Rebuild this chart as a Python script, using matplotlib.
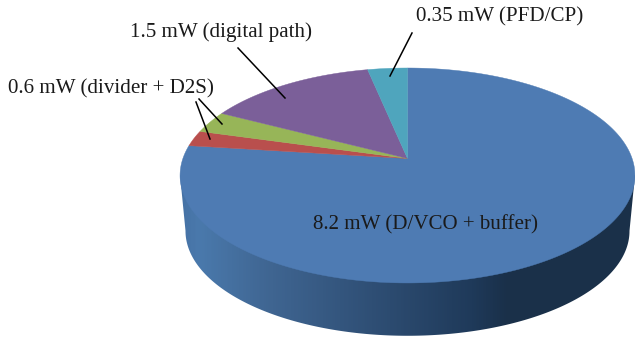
import numpy as np
import matplotlib
matplotlib.use('Agg')
import matplotlib.pyplot as plt
from matplotlib.colors import LinearSegmentedColormap
from matplotlib.patches import Polygon

# Power budget in mW, clockwise from 12 o'clock
blocks = ['D/VCO + buffer', 'divider', 'D2S', 'digital path', 'PFD/CP']
power = [8.2, 0.25, 0.35, 1.5, 0.35]
colors = ['#4e7bb3', '#b94f4d', '#97b558', '#7b5f99', '#4fa5bd']

labels = ['8.2 mW (D/VCO + buffer)', '0.6 mW (divider + D2S)',
          '1.5 mW (digital path)', '0.35 mW (PFD/CP)']
label_pos = [(313, 229), (8, 93), (130, 37), (416, 21)]

# Leader lines: start, end
leaders = [((238, 48), (285, 98)), ((412, 33), (390, 76)),
           ((196, 102), (210, 139)), ((199, 99), (222, 124))]

# Perspective of the disc, in pixels
cx, cy = 407.5, 158.5
A, B, k = 224.6, 104.8, 0.158


def top_face(theta):
    # theta in radians, clockwise from the top of the disc
    u, v = np.sin(theta), np.cos(theta)
    w = 1 + k*v
    return cx + A*u/w, cy - B*v/w


def bottom_face(theta):
    # lower rim, a bit narrower than the top one
    x, y = top_face(theta)
    return cx + (x - cx)*0.976, 231 + (y - 175.5)*0.975


fig = plt.figure(figsize=(6.35, 3.39), dpi=100)
ax = fig.add_axes([0, 0, 1, 1])
ax.set_xlim(0, 635)
ax.set_ylim(339, 0)
ax.axis('off')

# Side wall of the blue slice, with its horizontal shading
t = np.linspace(0, 2*np.pi, 721)
xt, yt = top_face(t)
xb, yb = bottom_face(t)
left_t, right_t = np.argmin(xt), np.argmax(xt)
left_b, right_b = np.argmin(xb), np.argmax(xb)
front = np.arange(right_b, left_b + 1)
wall = np.vstack([[xt[right_t], yt[right_t]],
                  np.column_stack([xb[front], yb[front]]),
                  [xt[left_t], yt[left_t]]])
wall_patch = Polygon(wall, closed=True, facecolor='none', edgecolor='none')
ax.add_patch(wall_patch)
shade = LinearSegmentedColormap.from_list('wall', [
    (0.0, '#4672a5'), (0.04, '#4a79ac'), (0.2, '#3f6591'),
    (0.42, '#2f4f75'), (0.64, '#1f3a5a'), (0.72, '#1a3049'), (1.0, '#1b3049')])
im = ax.imshow(np.linspace(0, 1, 456).reshape(1, -1), cmap=shade, aspect='auto',
               extent=(180, 636, 339, 0), zorder=1)
im.set_clip_path(wall_patch)
ax.set_xlim(0, 635)
ax.set_ylim(339, 0)

# Top face, one wedge per block
edges = np.cumsum([0] + power)/np.sum(power)*2*np.pi
for i in range(len(power)):
    a = np.linspace(edges[i], edges[i+1], 300)
    x, y = top_face(a)
    pts = np.column_stack([np.r_[cx, x], np.r_[cy, y]])
    ax.add_patch(Polygon(pts, closed=True, facecolor=colors[i],
                         edgecolor=colors[i], linewidth=0.3, zorder=2))

for (p0, p1) in leaders:
    ax.plot([p0[0], p1[0]], [p0[1], p1[1]], color='black', linewidth=1.1, zorder=3)

for txt, pos in zip(labels, label_pos):
    ax.text(pos[0], pos[1], txt, family='Liberation Serif', fontsize=15.1,
            color='#1a1a1a', ha='left', va='baseline', zorder=4)

fig.savefig('out.png', dpi=100)
